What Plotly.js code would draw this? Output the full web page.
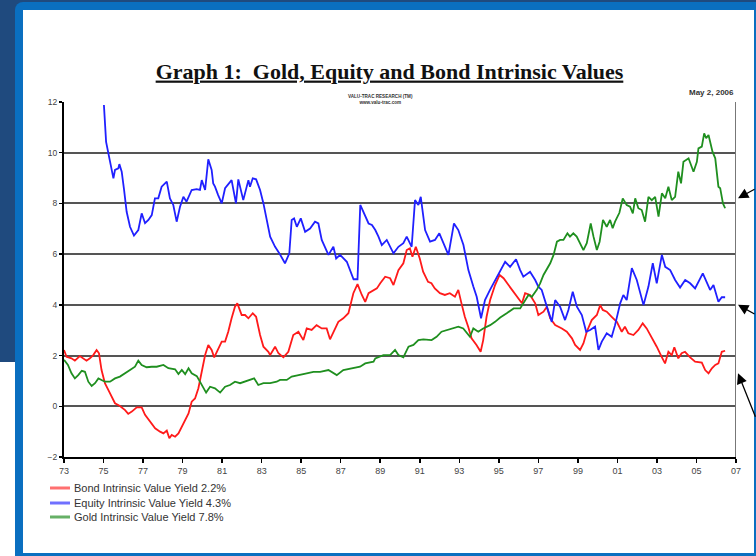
<!DOCTYPE html>
<html>
<head>
<meta charset="utf-8">
<script src="https://cdn.plot.ly/plotly-3.0.1.min.js"></script>
<style>
  html, body { margin:0; padding:0; width:756px; height:556px; overflow:hidden; background:#1f4a7e; }
  .bx { position:absolute; }
</style>
</head>
<body>
<div class="bx" style="left:0;top:362px;width:15px;height:194px;background:#fff"></div>
<div class="bx" style="left:15px;top:2px;width:741px;height:554px;background:#0a6fc0;border-top-left-radius:8px"></div>
<div class="bx" style="left:23px;top:10px;width:731px;height:543px;background:#fff"></div>
<div id="chart" class="bx" style="left:0;top:0;width:756px;height:556px"></div>
<script>
// ---- Data (years as decimal, values in %) ----
const bondYears = [1973.0,1973.13,1973.38,1973.55,1973.8,1973.97,1974.14,1974.31,1974.48,1974.65,1974.77,1974.9,1975.07,1975.33,1975.58,1975.83,1976.09,1976.25,1976.43,1976.68,1976.93,1977.1,1977.36,1977.61,1977.86,1978.03,1978.2,1978.33,1978.45,1978.62,1978.79,1978.96,1979.13,1979.3,1979.46,1979.63,1979.8,1979.97,1980.14,1980.3,1980.47,1980.6,1980.8,1980.98,1981.15,1981.31,1981.48,1981.65,1981.77,1981.99,1982.16,1982.33,1982.55,1982.72,1982.92,1983.09,1983.34,1983.43,1983.68,1983.85,1984.1,1984.35,1984.6,1984.86,1985.11,1985.28,1985.53,1985.78,1986.04,1986.29,1986.46,1986.63,1986.88,1987.13,1987.39,1987.64,1987.85,1988.07,1988.24,1988.41,1988.66,1988.83,1989.0,1989.25,1989.5,1989.67,1989.92,1990.17,1990.34,1990.5,1990.63,1990.8,1991.0,1991.17,1991.42,1991.59,1991.76,1992.02,1992.27,1992.52,1992.78,1992.95,1993.11,1993.28,1993.45,1993.62,1993.87,1994.08,1994.21,1994.38,1994.56,1994.81,1995.04,1995.24,1995.49,1995.75,1996.0,1996.17,1996.33,1996.58,1996.84,1997.0,1997.26,1997.43,1997.6,1997.85,1998.19,1998.44,1998.7,1998.86,1999.11,1999.28,1999.45,1999.7,1999.96,2000.13,2000.26,2000.46,2000.71,2000.97,2001.22,2001.38,2001.55,2001.81,2002.06,2002.28,2002.48,2002.73,2002.99,2003.24,2003.41,2003.58,2003.75,2003.88,2004.08,2004.25,2004.42,2004.68,2004.93,2005.27,2005.44,2005.61,2005.78,2005.95,2006.11,2006.28,2006.45];
const bondVals = [2.22,1.95,1.89,1.8,1.98,1.89,1.8,1.89,2.02,2.22,2.09,1.43,0.91,0.51,0.12,0.01,-0.15,-0.3,-0.21,-0.04,-0.04,-0.34,-0.61,-0.87,-1.0,-1.07,-0.96,-1.26,-1.13,-1.2,-1.07,-0.81,-0.54,-0.28,0.18,0.31,0.71,1.43,2.02,2.42,2.22,1.93,2.29,2.55,2.55,2.94,3.47,3.93,4.06,3.6,3.6,3.47,3.67,3.53,2.81,2.35,2.15,2.02,2.35,2.09,1.93,2.15,2.81,2.94,2.61,3.07,3.01,3.2,3.07,3.07,2.64,2.94,3.33,3.47,3.67,4.46,4.82,4.39,4.12,4.46,4.59,4.65,4.85,5.11,5.05,4.78,5.37,5.64,6.16,6.23,5.9,6.29,5.83,5.31,4.91,4.85,4.65,4.46,4.39,4.46,4.32,4.59,4.06,3.53,3.14,2.68,2.42,2.15,2.61,3.53,4.19,4.78,5.18,5.05,4.78,4.52,4.26,4.06,4.46,4.39,4.06,3.6,3.73,3.93,3.47,3.2,3.07,2.94,2.68,2.42,2.22,2.48,2.94,3.4,3.6,3.99,3.8,3.73,3.53,3.33,2.94,3.14,2.88,2.81,3.01,3.27,3.07,2.74,2.35,1.95,1.69,2.15,2.02,2.33,1.89,2.09,2.15,1.93,1.76,1.72,1.43,1.3,1.5,1.63,1.69,2.15,2.19];

const equityYears = [1975.02,1975.13,1975.33,1975.5,1975.58,1975.75,1975.8,1975.92,1976.04,1976.17,1976.34,1976.54,1976.76,1976.93,1977.1,1977.27,1977.44,1977.6,1977.77,1977.94,1978.2,1978.36,1978.53,1978.7,1978.87,1979.04,1979.2,1979.46,1979.71,1979.88,1979.97,1980.14,1980.3,1980.47,1980.55,1980.64,1980.8,1980.98,1981.15,1981.3,1981.48,1981.7,1981.82,1982.07,1982.33,1982.41,1982.55,1982.72,1982.92,1983.09,1983.26,1983.43,1983.68,1983.9,1984.18,1984.4,1984.52,1984.64,1984.78,1984.98,1985.2,1985.45,1985.7,1985.87,1986.04,1986.38,1986.63,1986.77,1986.97,1987.31,1987.65,1987.85,1987.99,1988.24,1988.41,1988.58,1988.75,1988.91,1989.08,1989.33,1989.67,1989.92,1990.17,1990.34,1990.59,1990.76,1990.93,1991.05,1991.27,1991.52,1991.77,1991.99,1992.19,1992.45,1992.73,1992.95,1993.21,1993.46,1993.71,1993.88,1994.1,1994.3,1994.56,1994.73,1994.98,1995.32,1995.57,1995.87,1996.08,1996.24,1996.58,1996.84,1997.0,1997.17,1997.43,1997.68,1997.85,1998.1,1998.35,1998.52,1998.74,1998.95,1999.2,1999.42,1999.62,1999.87,2000.04,2000.21,2000.46,2000.71,2000.88,2001.14,2001.3,2001.47,2001.73,2001.98,2002.32,2002.57,2002.79,2002.99,2003.25,2003.42,2003.67,2003.92,2004.17,2004.43,2004.68,2004.93,2005.32,2005.52,2005.69,2005.86,2006.11,2006.28,2006.45];
const equityVals = [11.88,10.43,9.65,8.99,9.32,9.38,9.55,9.25,8.53,7.67,7.08,6.73,6.95,7.61,7.22,7.35,7.54,8.2,8.2,8.66,8.86,8.2,7.94,7.28,7.87,8.26,8.07,8.53,8.56,8.53,8.92,8.53,9.74,9.32,8.79,8.66,8.33,8.0,8.6,8.73,8.92,8.0,8.95,8.13,8.92,8.66,8.99,8.95,8.53,8.0,7.35,6.69,6.29,6.03,5.64,6.03,7.35,7.41,7.08,7.41,6.88,7.01,7.28,7.21,6.56,5.97,6.29,5.83,5.97,5.7,5.01,5.01,7.94,7.48,7.21,7.15,6.95,6.69,6.36,6.56,6.03,6.29,6.43,6.69,6.29,8.13,7.94,8.26,6.95,6.49,6.56,6.82,6.43,5.97,7.21,6.95,6.36,5.37,4.72,4.32,3.47,4.19,4.6,4.85,5.18,5.7,5.5,5.8,5.37,5.11,5.3,4.98,4.72,4.59,3.93,3.33,4.19,3.93,3.4,3.8,4.52,3.93,3.6,2.94,3.01,3.14,2.22,2.55,2.88,2.74,3.2,4.06,4.39,4.19,5.45,4.98,3.99,4.72,5.64,4.85,5.97,5.5,5.37,4.98,4.68,4.98,4.85,4.65,5.24,4.85,4.59,4.78,4.12,4.3,4.3];

const goldYears = [1973.0,1973.2,1973.38,1973.55,1973.72,1973.9,1974.06,1974.23,1974.4,1974.57,1974.74,1974.91,1975.07,1975.33,1975.58,1975.83,1976.09,1976.34,1976.59,1976.76,1976.93,1977.18,1977.44,1977.69,1978.03,1978.28,1978.62,1978.79,1978.96,1979.13,1979.3,1979.46,1979.72,1979.88,1980.05,1980.19,1980.39,1980.64,1980.9,1981.15,1981.4,1981.65,1981.91,1982.16,1982.41,1982.62,1982.83,1983.09,1983.43,1983.76,1983.93,1984.27,1984.52,1984.94,1985.28,1985.62,1985.96,1986.38,1986.8,1987.13,1987.64,1987.98,1988.24,1988.66,1988.75,1989.16,1989.5,1989.75,1989.92,1990.17,1990.43,1990.68,1990.93,1991.18,1991.6,1991.85,1992.1,1992.45,1992.62,1992.95,1993.2,1993.54,1993.71,1993.96,1994.21,1994.56,1994.81,1995.07,1995.4,1995.75,1996.08,1996.33,1996.5,1996.67,1996.92,1997.09,1997.26,1997.6,1997.77,1997.94,1998.1,1998.27,1998.47,1998.6,1998.77,1998.94,1999.11,1999.28,1999.45,1999.65,1999.79,1999.96,2000.1,2000.27,2000.46,2000.63,2000.76,2000.88,2001.1,2001.27,2001.47,2001.64,2001.78,2001.9,2002.06,2002.23,2002.4,2002.57,2002.74,2002.91,2003.08,2003.25,2003.42,2003.58,2003.75,2003.92,2004.08,2004.22,2004.34,2004.6,2004.85,2005.02,2005.1,2005.27,2005.39,2005.49,2005.61,2005.81,2005.95,2006.11,2006.2,2006.34,2006.45];
const goldVals = [1.83,1.63,1.3,1.1,1.23,1.4,1.36,0.97,0.8,0.91,1.1,1.04,0.97,0.97,1.1,1.17,1.32,1.43,1.56,1.8,1.63,1.54,1.56,1.56,1.63,1.5,1.46,1.27,1.43,1.27,1.5,1.3,1.19,0.97,0.71,0.54,0.77,0.71,0.54,0.77,0.84,0.97,0.91,0.97,1.04,1.1,0.84,0.91,0.91,0.97,1.04,1.04,1.17,1.23,1.3,1.36,1.36,1.43,1.23,1.43,1.5,1.56,1.69,1.76,1.89,2.02,2.02,2.22,2.02,1.93,2.35,2.42,2.61,2.64,2.61,2.74,2.94,3.01,3.07,3.14,3.07,2.74,3.07,2.94,3.07,3.2,3.33,3.5,3.67,3.86,3.86,4.19,4.39,4.32,4.59,4.85,5.18,5.64,5.97,6.49,6.56,6.56,6.82,6.69,6.82,6.69,6.43,6.16,6.43,7.21,6.69,6.16,6.49,7.35,7.08,7.35,7.02,7.28,7.63,8.2,7.94,7.87,7.61,8.2,7.81,7.74,7.28,8.26,8.13,8.26,7.48,8.4,8.2,8.66,8.13,8.26,9.25,8.79,9.64,9.78,9.25,9.64,10.17,10.24,10.76,10.57,10.7,10.04,9.78,8.66,8.6,8.0,7.81];

const seriesNames = ['Bond Intrinsic Value Yield 2.2%', 'Equity Intrinsic Value Yield 4.3%', 'Gold Intrinsic Value Yield 7.8%'];
const xTickVals = [1973,1975,1977,1979,1981,1983,1985,1987,1989,1991,1993,1995,1997,1999,2001,2003,2005,2007];
const xTickText = ['73','75','77','79','81','83','85','87','89','91','93','95','97','99','01','03','05','07'];
const arrowTargets = [8.2, 4.0, 1.3];

// ---- Styles ----
const lineColors = ['#ff1a1a', '#2020ff', '#1f8f1f'];
const legendColors = ['#ff7070', '#7070ff', '#66b066'];
const fontSans = 'Arial, Liberation Sans, sans-serif';

const traces = [
  {x: bondYears, y: bondVals, name: seriesNames[0]},
  {x: equityYears, y: equityVals, name: seriesNames[1]},
  {x: goldYears, y: goldVals, name: seriesNames[2]}
].map((t, i) => Object.assign(t, {
  type: 'scatter', mode: 'lines', line: {color: lineColors[i], width: 1.8}, showlegend: false, hoverinfo: 'skip'
}));

const legendY = [-0.0873, -0.1296, -0.169];
const shapes = [
  {type: 'line', xref: 'x', yref: 'y', x0: 2007, x1: 2007, y0: -2, y1: 12, line: {color: '#777', width: 2}},
  {type: 'rect', xref: 'paper', yref: 'paper', x0: 0.3765, x1: 0.5848, y0: 0.985, y1: 1.02, fillcolor: '#fff', line: {width: 0}, layer: 'above'}
];
seriesNames.forEach((n, i) => shapes.push({type: 'line', xref: 'paper', yref: 'paper', x0: -0.0208, x1: 0.0089, y0: legendY[i], y1: legendY[i], line: {color: legendColors[i], width: 3}}));

const annotations = [
  {xref: 'paper', yref: 'paper', x: 1, y: 1.0254, xanchor: 'right', yanchor: 'middle', showarrow: false, text: '<b>May 2, 2006</b>', font: {family: fontSans, size: 8, color: '#333'}},
  {xref: 'paper', yref: 'paper', x: 0.4717, y: 1.008, xanchor: 'center', yanchor: 'middle', showarrow: false,
   text: '<b>VALU-TRAC RESEARCH (TM)</b><br><b>www.valu-trac.com</b>', font: {family: fontSans, size: 4.6, color: '#333'}}
];
const arrowOffsets = [[24, -10], [24, 10], [30, 45]];
arrowTargets.forEach((v, i) => annotations.push({
  xref: 'paper', yref: 'y', x: 1.003, y: v, text: '', showarrow: true, arrowhead: 2, arrowsize: 1.6, arrowwidth: 1.3, arrowcolor: '#000',
  ax: arrowOffsets[i][0], ay: arrowOffsets[i][1]
}));
seriesNames.forEach((n, i) => annotations.push({
  xref: 'paper', yref: 'paper', x: 0.0119, y: legendY[i], xanchor: 'left', yanchor: 'middle', showarrow: false, text: n,
  font: {family: fontSans, size: 11, color: '#333'}
}));

const layout = {
  width: 756, height: 556,
  margin: {l: 64, r: 20, t: 102, b: 99, pad: 0},
  paper_bgcolor: 'rgba(0,0,0,0)', plot_bgcolor: 'rgba(0,0,0,0)',
  showlegend: false,
  title: {
    text: '<b>Graph 1:  Gold, Equity and Bond Intrinsic Values</b>',
    font: {family: 'Liberation Serif, Times New Roman, serif', size: 22, color: '#111', lineposition: 'under'},
    xref: 'container', yref: 'container', x: 0.5152, y: 0.8725, xanchor: 'center', yanchor: 'middle'
  },
  xaxis: {
    range: [1973, 2007], tickmode: 'array', tickvals: xTickVals, ticktext: xTickText,
    ticks: 'outside', ticklen: 4, tickwidth: 1.5, tickcolor: '#000',
    showline: true, linecolor: '#000', linewidth: 2, showgrid: false, zeroline: false,
    tickfont: {family: fontSans, size: 9, color: '#444'}
  },
  yaxis: {
    range: [-2, 12], tick0: 0, dtick: 2,
    ticks: 'outside', ticklen: 3, tickwidth: 1.5, tickcolor: '#000',
    showline: true, linecolor: '#000', linewidth: 2,
    showgrid: true, gridcolor: '#555', gridwidth: 2, zeroline: false,
    tickfont: {family: fontSans, size: 8.5, color: '#444'}
  },
  shapes: shapes,
  annotations: annotations
};

Plotly.newPlot('chart', traces, layout, {staticPlot: true, displayModeBar: false});
</script>
</body>
</html>
